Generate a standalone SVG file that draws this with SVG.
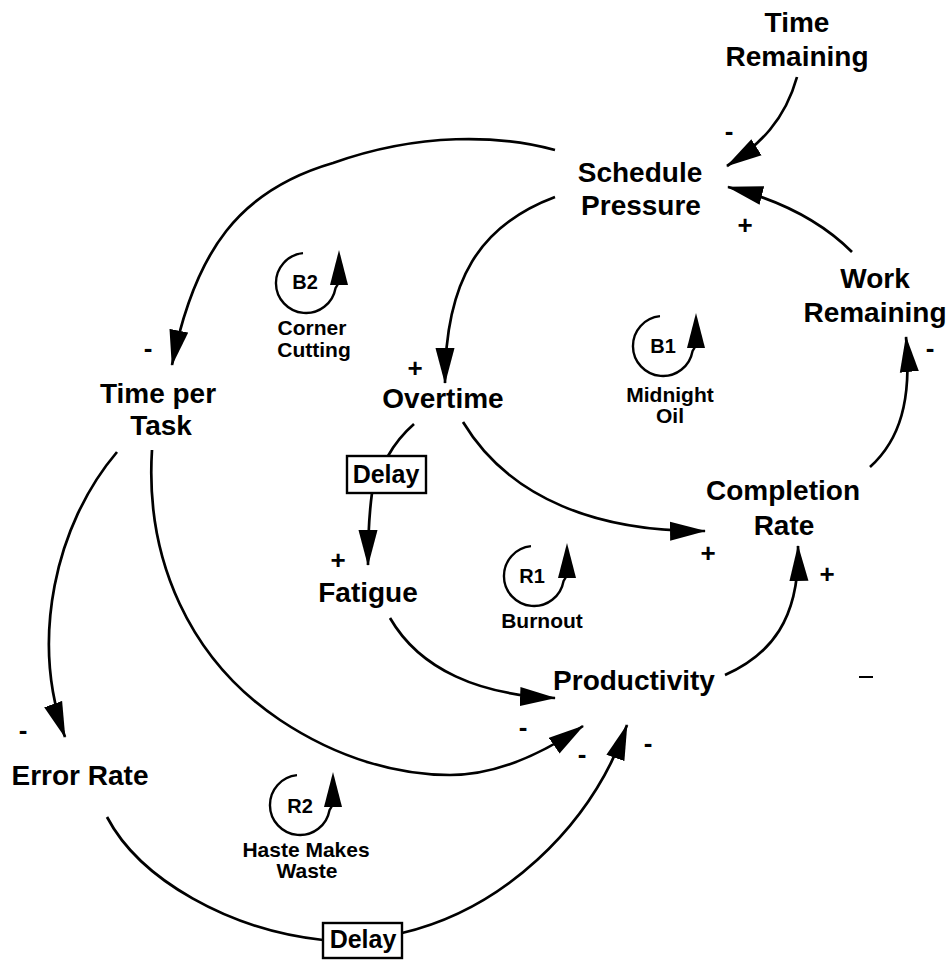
<svg xmlns="http://www.w3.org/2000/svg" width="947" height="961" viewBox="0 0 947 961">
<style>
text{font-family:"Liberation Sans",Arial,Helvetica,sans-serif;font-weight:bold;fill:#000;text-anchor:middle}
.n{font-size:28px}
.l{font-size:21px}
.id{font-size:20px}
.s{font-size:26px}
.d{font-size:25px}
.c{fill:none;stroke:#000;stroke-width:2.7}
.ca{fill:none;stroke:#000;stroke-width:2.7;marker-end:url(#ah)}
.box{fill:#fff;stroke:#000;stroke-width:2.4}
</style>
<defs>
<marker id="ah" markerUnits="userSpaceOnUse" markerWidth="36" markerHeight="20" viewBox="0 0 34 18" refX="33" refY="9" orient="auto">
<path d="M0,0 L34,9 L0,18 z" fill="#000"/>
</marker>
<g id="loopsym">
<path d="M-3,-29.85 A30,30 0 1 0 29.5,5.2 L32,1" fill="none" stroke="#000" stroke-width="2.4"/>
<polygon points="24,2 33,-33 42,2" fill="#000"/>
</g>
</defs>
<rect width="947" height="961" fill="#fff"/>

<g id="connectors">
<path class="ca" d="M797,77 C785,120 760,145 727,166"/>
<path class="ca" d="M852,252 C820,220 780,200 728,187"/>
<path class="ca" d="M555,150 C500,135 420,132 333,163 C240,190 195,250 172,365"/>
<path class="ca" d="M555,197 C480,225 445,280 445,383"/>
<path class="ca" d="M117,452 C55,525 30,640 65,737"/>
<path class="ca" d="M152,450 C145,560 190,660 280,720 C340,760 400,775 450,775 C500,775 545,752 583,726"/>
<path class="c" d="M414,424 Q398,438 388,456"/>
<path class="ca" d="M372,493 C369,515 368,540 368,565"/>
<path class="ca" d="M390,618 C420,670 480,695 555,698"/>
<path class="ca" d="M463,422 C510,500 600,532 705,531"/>
<path class="ca" d="M725,675 C770,655 800,620 798,546"/>
<path class="ca" d="M870,467 C900,440 912,400 906,337"/>
<path class="c" d="M107,817 C140,880 230,930 323,940"/>
<path class="ca" d="M402,933 C500,910 590,830 627,725"/>
</g>

<g id="time-remaining"><text class="n" x="797" y="32">Time</text><text class="n" x="797" y="66">Remaining</text></g>
<g id="schedule-pressure"><text class="n" x="640" y="182">Schedule</text><text class="n" x="641" y="215">Pressure</text></g>
<g id="work-remaining"><text class="n" x="875" y="288">Work</text><text class="n" x="875" y="322">Remaining</text></g>
<g id="time-per-task"><text class="n" x="158" y="403">Time per</text><text class="n" x="161" y="435">Task</text></g>
<g id="overtime"><text class="n" x="443" y="408">Overtime</text></g>
<g id="completion-rate"><text class="n" x="783" y="500">Completion</text><text class="n" x="784" y="535">Rate</text></g>
<g id="fatigue"><text class="n" x="368" y="602">Fatigue</text></g>
<g id="productivity"><text class="n" x="634" y="690">Productivity</text></g>
<g id="error-rate"><text class="n" x="80" y="785">Error Rate</text></g>

<g id="delay1"><rect class="box" x="347" y="456" width="79" height="37"/><text class="d" x="386" y="483">Delay</text></g>
<g id="delay2"><rect class="box" x="323" y="923" width="79" height="35"/><text class="d" x="363" y="948">Delay</text></g>

<g id="loop-b2"><use href="#loopsym" x="306" y="283"/><text class="id" x="305" y="289">B2</text><text class="l" x="312" y="335">Corner</text><text class="l" x="314" y="357">Cutting</text></g>
<g id="loop-b1"><use href="#loopsym" x="663" y="346"/><text class="id" x="663" y="353">B1</text><text class="l" x="670" y="402">Midnight</text><text class="l" x="670" y="423">Oil</text></g>
<g id="loop-r1"><use href="#loopsym" x="534" y="576"/><text class="id" x="532" y="583">R1</text><text class="l" x="542" y="628">Burnout</text></g>
<g id="loop-r2"><use href="#loopsym" x="300" y="805"/><text class="id" x="300" y="813">R2</text><text class="l" x="306" y="857">Haste Makes</text><text class="l" x="307" y="878">Waste</text></g>

<g id="polarities">
<text class="s" x="729" y="140">-</text>
<text class="s" x="745" y="234">+</text>
<text class="s" x="148" y="357">-</text>
<text class="s" x="415" y="377">+</text>
<text class="s" x="930" y="357">-</text>
<text class="s" x="338" y="569">+</text>
<text class="s" x="708" y="562">+</text>
<text class="s" x="827" y="583">+</text>
<text class="s" x="23" y="739">-</text>
<text class="s" x="523" y="736">-</text>
<text class="s" x="582" y="763">-</text>
<text class="s" x="648" y="752">-</text>
</g>
<line x1="859" y1="677" x2="873" y2="677" stroke="#000" stroke-width="2"/>
</svg>
